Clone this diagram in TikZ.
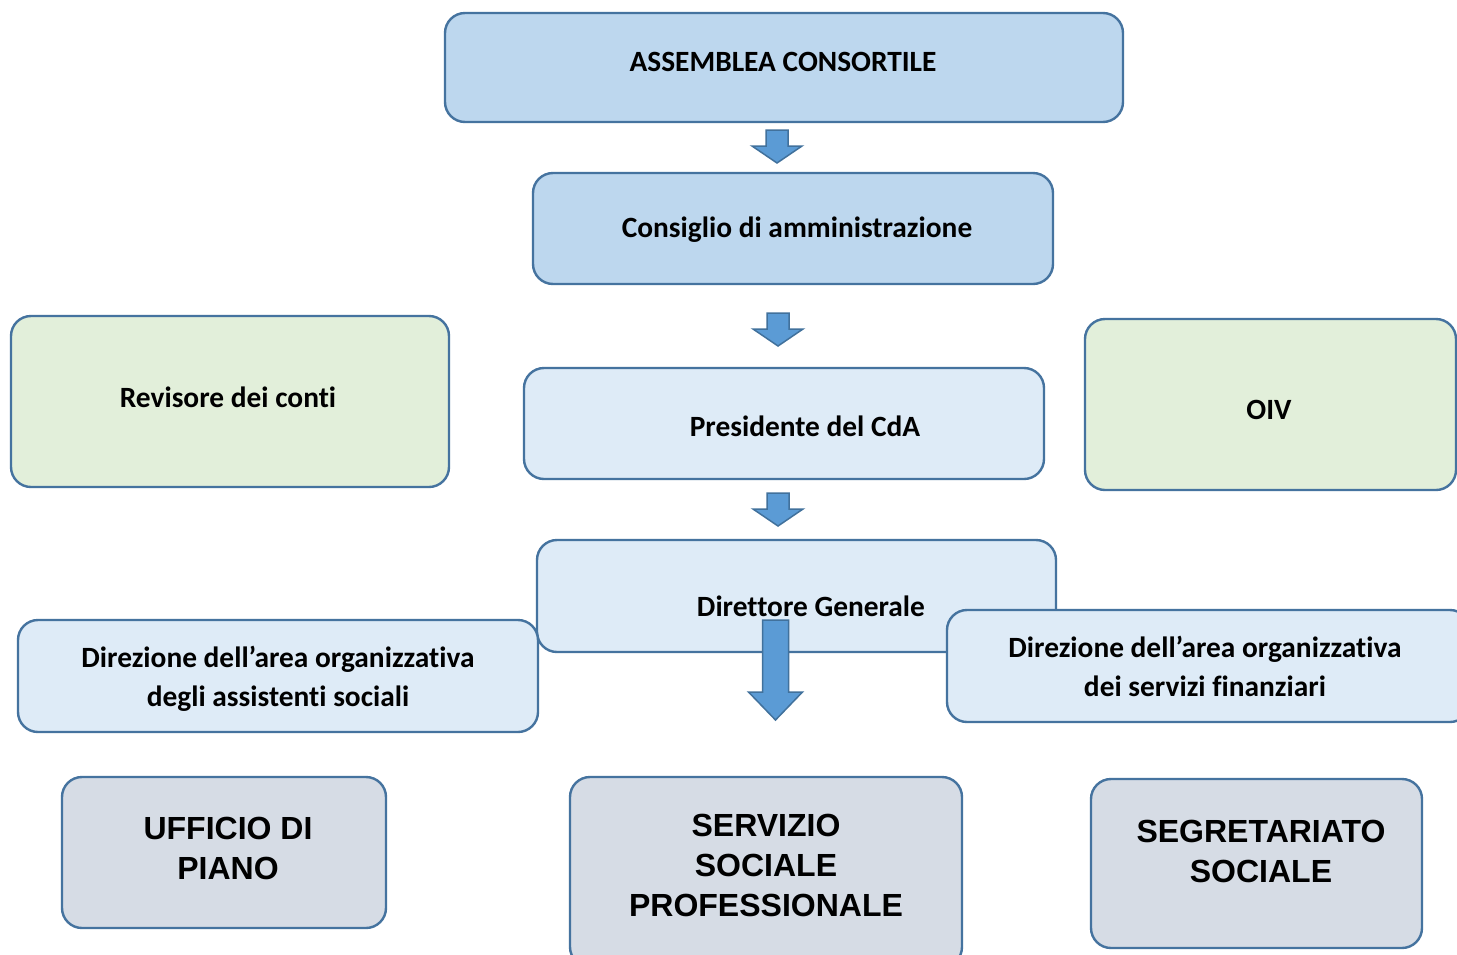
\documentclass[tikz,border=0pt]{standalone}
\usepackage{fontspec}
\setmainfont{Carlito}[Ligatures={NoCommon}]
\newfontfamily\arialfont{Liberation Sans}
\definecolor{bord}{HTML}{45739F}
\definecolor{bluefill}{HTML}{BDD7EE}
\definecolor{lightfill}{HTML}{DEEBF7}
\definecolor{greenfill}{HTML}{E2EFDA}
\definecolor{grayfill}{HTML}{D6DCE5}
\definecolor{arrowfill}{HTML}{5B9BD5}
\definecolor{arrowbord}{HTML}{41719C}
\tikzset{
  box/.style={draw=bord, line width=2.4pt, rounded corners=20pt, inner sep=0pt},
  bluebox/.style={box, fill=bluefill},
  lightbox/.style={box, fill=lightfill},
  greenbox/.style={box, fill=greenfill},
  graybox/.style={box, fill=grayfill},
  txt/.style={font=\fontsize{29.4}{39}\selectfont\bfseries, align=center, inner sep=0pt},
  bigtxt/.style={font=\fontsize{32}{40}\selectfont\arialfont\bfseries, align=center, inner sep=0pt},
  blockarrow/.style={fill=arrowfill, draw=arrowbord, line width=1.5pt, line join=miter},
}
\begin{document}
\begin{tikzpicture}[x=1pt,y=-1pt]
\useasboundingbox (0,0) rectangle (1457,954);
\clip (0,0) rectangle (1457,954);
\fill[white] (0,0) rectangle (1457,954);
% top boxes
\node[bluebox, minimum width=678pt, minimum height=109pt] (assemblea) at (784,67.5) {};
\node[txt] (assembleaT) at (783,62) {ASSEMBLEA CONSORTILE};
\node[bluebox, minimum width=520pt, minimum height=111pt] (consiglio) at (793,228.5) {};
\node[txt] (consiglioT) at (797,230) {Consiglio di amministrazione};
\node[greenbox, minimum width=438pt, minimum height=171pt] (revisore) at (230,401.5) {};
\node[txt] (revisoreT) at (228,397) {Revisore dei conti};
\node[lightbox, minimum width=520pt, minimum height=111pt] (presidente) at (784,423.5) {};
\node[txt] (presidenteT) at (805,426) {Presidente del CdA};
\node[greenbox, minimum width=371pt, minimum height=171pt] (oiv) at (1270.5,404.5) {};
\node[txt] (oivT) at (1269,410) {OIV};
\node[lightbox, minimum width=519pt, minimum height=112pt] (direttore) at (796.5,596) {};
\node[txt] (direttoreT) at (811,606) {Direttore Generale};
\node[lightbox, minimum width=520pt, minimum height=112pt] (dirsx) at (278,676) {};
\node[txt] (dirsxT) at (278,679) {Direzione dell’area organizzativa\\degli assistenti sociali};
\node[lightbox, minimum width=523pt, minimum height=112pt] (dirdx) at (1208.5,666) {};
\node[txt] (dirdxT) at (1205,666) {Direzione dell’area organizzativa\\dei servizi finanziari};
% bottom boxes
\node[graybox, minimum width=324pt, minimum height=151pt] (ufficio) at (224,852.5) {};
\node[bigtxt] (ufficioT) at (228,848) {UFFICIO DI\\PIANO};
\node[graybox, minimum width=392pt, minimum height=190pt] (servizio) at (766,872) {};
\node[bigtxt] (servizioT) at (766,865) {SERVIZIO\\SOCIALE\\PROFESSIONALE};
\node[graybox, minimum width=331pt, minimum height=169pt] (segretariato) at (1256.5,863.5) {};
\node[bigtxt] (segretariatoT) at (1261,851) {SEGRETARIATO\\SOCIALE};
% block arrows
\coordinate (a1) at (777,130);
\coordinate (a2) at (778,313);
\coordinate (a3) at (778,493);
\foreach \c in {a1,a2,a3}{
  \draw[blockarrow] ([xshift=-11pt]\c) -- ([xshift=11pt]\c) -- ([xshift=11pt,yshift=-16pt]\c)
    -- ([xshift=25pt,yshift=-16pt]\c) -- ([yshift=-33pt]\c) -- ([xshift=-25pt,yshift=-16pt]\c)
    -- ([xshift=-11pt,yshift=-16pt]\c) -- cycle;
}
\coordinate (a4) at (775.5,620);
\draw[blockarrow] ([xshift=-13pt]a4) -- ([xshift=13pt]a4) -- ([xshift=13pt,yshift=-72pt]a4)
  -- ([xshift=27pt,yshift=-72pt]a4) -- ([yshift=-100pt]a4) -- ([xshift=-27pt,yshift=-72pt]a4)
  -- ([xshift=-13pt,yshift=-72pt]a4) -- cycle;
\end{tikzpicture}
\end{document}
